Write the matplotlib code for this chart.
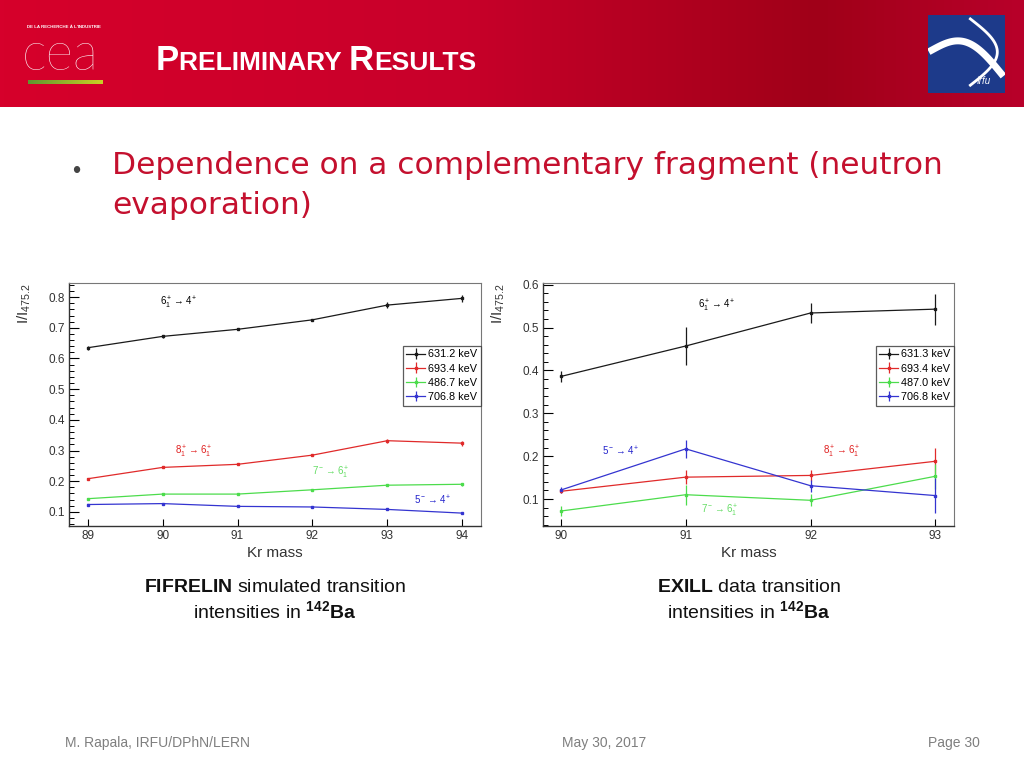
import numpy as np
import matplotlib
matplotlib.use("Agg")
import matplotlib.pyplot as plt
from matplotlib.colors import LinearSegmentedColormap
from matplotlib.patches import Rectangle
from matplotlib.ticker import AutoMinorLocator, MultipleLocator

plt.rcParams["mathtext.fontset"] = "custom"
plt.rcParams["mathtext.rm"] = "Liberation Sans"
plt.rcParams["mathtext.it"] = "Liberation Sans:italic"
plt.rcParams["mathtext.bf"] = "Liberation Sans:bold"
plt.rcParams["font.family"] = ["Liberation Sans", "DejaVu Sans"]

# FIFRELIN simulation (left panel)
sim_mass = [89, 90, 91, 92, 93, 94]
sim_631 = [0.635, 0.672, 0.695, 0.726, 0.774, 0.796]
sim_631_err = [0.006, 0.004, 0.003, 0.004, 0.010, 0.012]
sim_693 = [0.208, 0.245, 0.255, 0.285, 0.332, 0.324]
sim_693_err = [0.003, 0.003, 0.003, 0.003, 0.006, 0.008]
sim_487 = [0.143, 0.158, 0.158, 0.172, 0.187, 0.190]
sim_487_err = [0.002, 0.002, 0.002, 0.002, 0.004, 0.004]
sim_707 = [0.124, 0.127, 0.118, 0.116, 0.108, 0.096]
sim_707_err = [0.002, 0.002, 0.002, 0.002, 0.002, 0.003]
sim_labels = ["631.2 keV", "693.4 keV", "486.7 keV", "706.8 keV"]

# EXILL data (right panel)
exp_mass = [90, 91, 92, 93]
exp_631 = [0.386, 0.457, 0.534, 0.543]
exp_631_err = [0.012, 0.045, 0.023, 0.036]
exp_693 = [0.118, 0.151, 0.155, 0.188]
exp_693_err = [0.005, 0.017, 0.012, 0.030]
exp_487 = [0.072, 0.110, 0.097, 0.153]
exp_487_err = [0.011, 0.023, 0.014, 0.029]
exp_707 = [0.121, 0.217, 0.131, 0.108]
exp_707_err = [0.006, 0.021, 0.014, 0.041]
exp_labels = ["631.3 keV", "693.4 keV", "487.0 keV", "706.8 keV"]

line_colors = ["#1a1a1a", "#e02a2a", "#4cdc4c", "#3434d0"]
SLIDE_RED = "#c4102e"

fig = plt.figure(figsize=(10.24, 7.68), dpi=100)
W, H = 1024.0, 768.0


def fx(px):
    return px / W


def fy(py):
    return 1 - py / H


# ---- header band ----
hdr = fig.add_axes([0, fy(107), 1, 107 / H])
hdr.set_axis_off()
grad_cmap = LinearSegmentedColormap.from_list(
    "hdr", [(0.0, "#d6002b"), (0.45, "#c8002a"), (0.8, "#a00018"), (1.0, "#b8002a")])
grad = np.tile(np.linspace(0, 1, 256), (8, 1))
hdr.imshow(grad, aspect="auto", cmap=grad_cmap, extent=[0, 1, 0, 1])
hdr.set_xlim(0, 1)
hdr.set_ylim(0, 1)

# CEA logo
fig.text(fx(27), fy(27), "DE LA RECHERCHE À L'INDUSTRIE", color="white",
         fontsize=3.2, va="center", ha="left", fontweight="bold")
fig.text(fx(22), fy(56), "cea", color="white", fontsize=38, family="Lato",
         va="center", ha="left", fontweight="light")
bar_ax = fig.add_axes([fx(28), fy(84), fx(103) - fx(28), 4 / H])
bar_ax.set_axis_off()
bar_cmap = LinearSegmentedColormap.from_list("bar", ["#5f9630", "#c9cf25"])
bar_ax.imshow(np.tile(np.linspace(0, 1, 64), (2, 1)), aspect="auto", cmap=bar_cmap)

# IRFU logo
logo = fig.add_axes([fx(928), fy(93), 77 / W, 78 / H])
logo.set_xlim(0, 1)
logo.set_ylim(0, 1)
logo.set_axis_off()
logo.add_patch(Rectangle((0, 0), 1, 1, color="#1d3a8a"))
t = np.linspace(0, 1, 100)
logo.plot(0.05 + 0.9 * t, 0.55 + 0.25 * np.sin(np.pi * t) - 0.3 * t, color="white", lw=5)
logo.plot(0.55 + 0.35 * np.sin(np.pi * t), 0.95 - 0.85 * t, color="white", lw=2)
logo.text(0.72, 0.15, "Irfu", color="white", fontsize=7, style="italic", ha="center", va="center")

# title in small caps
renderer = fig.canvas.get_renderer()
x = fx(156)
for piece, size in [("P", 25), ("RELIMINARY ", 19), ("R", 25), ("ESULTS", 19)]:
    txt = fig.text(x, fy(70), piece, color="white", fontsize=size, fontweight="bold",
                   ha="left", va="baseline")
    bb = txt.get_window_extent(renderer)
    x = bb.x1 / W

# ---- bullet ----
fig.text(fx(72), fy(172), "•", color="#444444", fontsize=17, va="center", ha="left")
fig.text(fx(112), fy(166), "Dependence on a complementary fragment (neutron",
         color=SLIDE_RED, fontsize=22.5, family="DejaVu Sans", va="center", ha="left")
fig.text(fx(112), fy(205), "evaporation)",
         color=SLIDE_RED, fontsize=22.5, family="DejaVu Sans", va="center", ha="left")


def draw_panel(ax, mass, vals, errs, labels, xlim, ylim, notes):
    for v, e, c, lab in zip(vals, errs, line_colors, labels):
        ax.errorbar(mass, v, yerr=e, color=c, lw=0.9, elinewidth=0.9, capsize=0,
                    marker="s", ms=2.0, label=lab)
    ax.set_xlim(*xlim)
    ax.set_ylim(*ylim)
    ax.xaxis.set_major_locator(MultipleLocator(1))
    ax.yaxis.set_major_locator(MultipleLocator(0.1))
    ax.yaxis.set_minor_locator(AutoMinorLocator(5))
    ax.tick_params(axis="both", which="major", direction="in", length=7, width=0.8,
                   labelsize=8.5, labelcolor="#333333", pad=3)
    ax.tick_params(axis="x", which="major", length=5)
    ax.tick_params(axis="y", which="minor", direction="in", length=3.5, width=0.7)
    for side in ["left", "bottom"]:
        ax.spines[side].set_color("#333333")
        ax.spines[side].set_linewidth(1.0)
    for side in ["top", "right"]:
        ax.spines[side].set_color("#777777")
        ax.spines[side].set_linewidth(0.8)
    ax.set_xlabel("Kr mass", fontsize=11, color="#333333", labelpad=3)
    ax.set_ylabel("I/I$_{475.2}$", fontsize=11, color="#333333", loc="top")
    ax.yaxis.set_label_coords(-0.088, 1.0)
    leg = ax.legend(loc="upper right", bbox_to_anchor=(1.0, 0.742), fancybox=False,
                    edgecolor="#333333", fontsize=7.8, handlelength=1.7,
                    handletextpad=0.3, borderpad=0.35, labelspacing=0.38,
                    borderaxespad=0)
    leg.get_frame().set_linewidth(0.9)
    for tx, ty, s, c in notes:
        ax.text(tx, ty, s, color=c, fontsize=7, ha="left", va="center")


ax1 = fig.add_axes([fx(69), fy(526), 412 / W, 243 / H])
draw_panel(ax1, sim_mass, [sim_631, sim_693, sim_487, sim_707],
           [sim_631_err, sim_693_err, sim_487_err, sim_707_err], sim_labels,
           (88.75, 94.25), (0.054, 0.846),
           [(89.97, 0.781, r"$6_1^+\rightarrow 4^+$", "black"),
            (90.17, 0.296, r"$8_1^+\rightarrow 6_1^+$", "#e02020"),
            (92.0, 0.228, r"$7^-\rightarrow 6_1^+$", "#66dd66"),
            (93.36, 0.139, r"$5^-\rightarrow 4^+$", "#2424cc")])

ax2 = fig.add_axes([fx(543), fy(526), 411 / W, 243 / H])
draw_panel(ax2, exp_mass, [exp_631, exp_693, exp_487, exp_707],
           [exp_631_err, exp_693_err, exp_487_err, exp_707_err], exp_labels,
           (89.856, 93.15), (0.037, 0.604),
           [(91.1, 0.55, r"$6_1^+\rightarrow 4^+$", "black"),
            (90.33, 0.21, r"$5^-\rightarrow 4^+$", "#2424cc"),
            (92.1, 0.21, r"$8_1^+\rightarrow 6_1^+$", "#e02020"),
            (91.12, 0.073, r"$7^-\rightarrow 6_1^+$", "#66dd66")])

# ---- captions ----
fig.text(fx(275), fy(588), r"$\mathbf{FIFRELIN}$ simulated transition", ha="center",
         va="center", fontsize=14, color="#111111")
fig.text(fx(275), fy(611), r"intensities in $^{\mathbf{142}}\mathbf{Ba}$", ha="center",
         va="center", fontsize=14, color="#111111")
fig.text(fx(749), fy(587), r"$\mathbf{EXILL}$ data transition", ha="center",
         va="center", fontsize=14, color="#111111")
fig.text(fx(749), fy(611), r"intensities in $^{\mathbf{142}}\mathbf{Ba}$", ha="center",
         va="center", fontsize=14, color="#111111")

# ---- footer ----
fig.text(fx(65), fy(743), "M. Rapala, IRFU/DPhN/LERN", color="#7f7f7f", fontsize=10,
         ha="left", va="center")
fig.text(fx(604), fy(743), "May 30, 2017", color="#7f7f7f", fontsize=10,
         ha="center", va="center")
fig.text(fx(980), fy(743), "Page 30", color="#7f7f7f", fontsize=10,
         ha="right", va="center")

fig.savefig("out.png", dpi=100)
